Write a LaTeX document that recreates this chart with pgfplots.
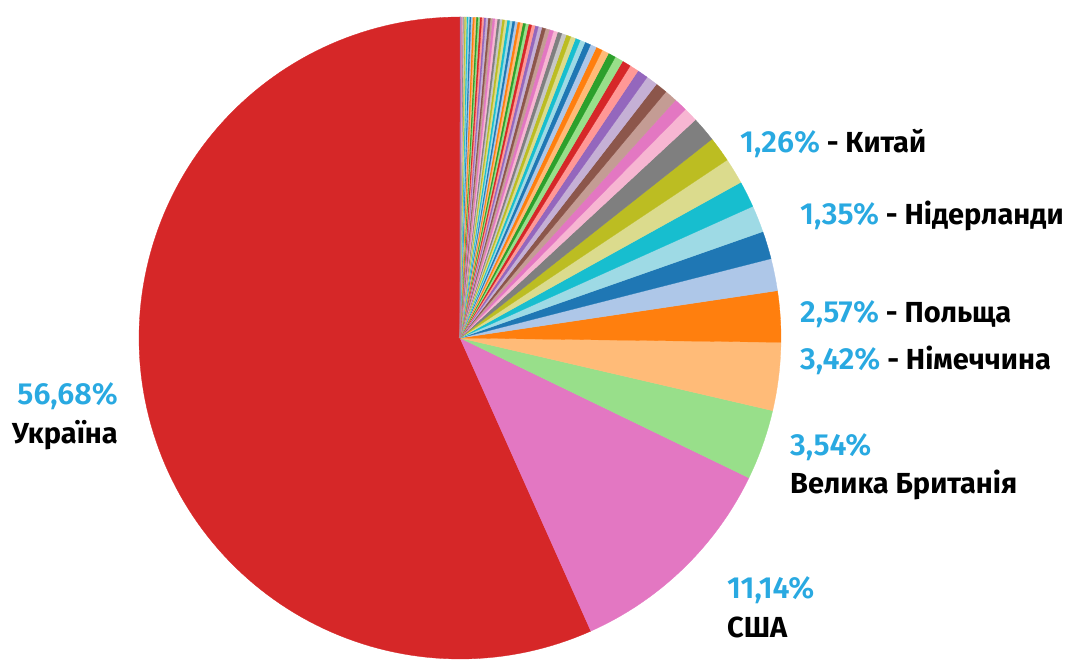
\documentclass[border=0pt]{standalone}
\usepackage{pgfplots}
\pgfplotsset{compat=1.18}
\usepackage{pgfplotstable}
\usepackage{fontspec}
\setmainfont{Fira Sans}
\newfontfamily\firamed{Fira Sans SemiBold}
\definecolor{c0}{HTML}{1F77B4}
\definecolor{c1}{HTML}{AEC7E8}
\definecolor{c2}{HTML}{FF7F0E}
\definecolor{c3}{HTML}{FFBB78}
\definecolor{c4}{HTML}{2CA02C}
\definecolor{c5}{HTML}{98DF8A}
\definecolor{c6}{HTML}{D62728}
\definecolor{c7}{HTML}{FF9896}
\definecolor{c8}{HTML}{9467BD}
\definecolor{c9}{HTML}{C5B0D5}
\definecolor{c10}{HTML}{8C564B}
\definecolor{c11}{HTML}{C49C94}
\definecolor{c12}{HTML}{E377C2}
\definecolor{c13}{HTML}{F7B6D2}
\definecolor{c14}{HTML}{7F7F7F}
\definecolor{c15}{HTML}{C7C7C7}
\definecolor{c16}{HTML}{BCBD22}
\definecolor{c17}{HTML}{DBDB8D}
\definecolor{c18}{HTML}{17BECF}
\definecolor{c19}{HTML}{9EDAE5}
\definecolor{pct}{HTML}{29A9E1}
\pgfplotstableread{
val col
56.68 c6
11.14 c12
3.54 c5
3.42 c3
2.57 c2
1.62 c1
1.40 c0
1.35 c19
1.33 c18
1.30 c17
1.28 c16
1.26 c14
0.72 c13
0.67 c12
0.63 c11
0.60 c10
0.58 c9
0.55 c8
0.46 c7
0.44 c6
0.42 c5
0.38 c4
0.35 c3
0.33 c2
0.31 c1
0.30 c0
0.26 c19
0.25 c18
0.25 c17
0.24 c16
0.23 c15
0.22 c14
0.21 c13
0.21 c12
0.20 c11
0.19 c10
0.18 c9
0.17 c8
0.17 c7
0.16 c6
0.15 c5
0.14 c4
0.14 c3
0.13 c2
0.13 c1
0.13 c0
0.13 c19
0.13 c18
0.13 c17
0.12 c16
0.12 c15
0.12 c14
0.12 c13
0.12 c12
0.11 c11
0.11 c10
0.11 c9
0.10 c8
0.10 c7
0.10 c6
0.09 c5
0.09 c4
0.09 c3
0.09 c2
0.08 c1
0.08 c0
0.07 c19
0.07 c18
0.06 c17
0.05 c16
0.05 c15
0.04 c14
0.03 c13
0.03 c12
0.02 c11
0.02 c10
0.01 c9
0.01 c8
}\piedata
\begin{document}
\begin{tikzpicture}
\begin{axis}[x=1pt,y=1pt,xmin=0,xmax=1071,ymin=0,ymax=659,
  axis line style={draw=none},xtick=\empty,ytick=\empty,clip=false]
\pgfplotstablegetrowsof{\piedata}
\pgfmathtruncatemacro\nrows{\pgfplotsretval-1}
\def\total{0}
\pgfplotsforeachungrouped \i in {0,...,\nrows}{%
  \pgfplotstablegetelem{\i}{val}\of\piedata
  \pgfmathsetmacro\total{\total+\pgfplotsretval}%
}
\def\cum{90}
\pgfplotsforeachungrouped \i in {0,...,\nrows}{%
  \pgfplotstablegetelem{\i}{val}\of\piedata
  \let\sval\pgfplotsretval
  \pgfplotstablegetelem{\i}{col}\of\piedata
  \let\scol\pgfplotsretval
  \pgfmathsetmacro\angA{\cum}%
  \pgfmathsetmacro\angB{\cum+\sval/\total*360}%
  \pgfmathtruncatemacro\ns{max(2,ceil((\angB-\angA)/1.5)+1)}%
  \edef\doplot{\noexpand\addplot[fill=\scol,draw=\scol,line width=0.3pt,domain=\angA:\angB,samples=\ns] ({460+321*cos(x)},{321+321*sin(x)}) -- (axis cs:460,321) -- cycle;}%
  \doplot
  \let\cum\angB
}
\tikzset{lab/.style={font=\bfseries\fontsize{29}{32}\selectfont, inner sep=0pt}}
\newcommand\pc[1]{{\firamed\mdseries\fontsize{30.5}{32}\selectfont\color{pct}#1}}
\node[lab, anchor=base west] at (axis cs:740,506) {\pc{1,26\%} - Китай};
\node[lab, anchor=base west] at (axis cs:800,434) {\pc{1,35\%} - Нідерланди};
\node[lab, anchor=base west] at (axis cs:800,336) {\pc{2,57\%} - Польща};
\node[lab, anchor=base west] at (axis cs:800,289) {\pc{3,42\%} - Німеччина};
\node[lab, anchor=base west] at (axis cs:790,203) {\pc{3,54\%}};
\node[lab, anchor=base west] at (axis cs:790,165) {Велика Британія};
\node[lab, anchor=base west] at (axis cs:727,60) {\pc{11,14\%}};
\node[lab, anchor=base west] at (axis cs:727,21) {США};
\node[lab, anchor=base east] at (axis cs:118,254) {\pc{56,68\%}};
\node[lab, anchor=base east] at (axis cs:118,215) {Україна};
\end{axis}
\end{tikzpicture}
\end{document}
